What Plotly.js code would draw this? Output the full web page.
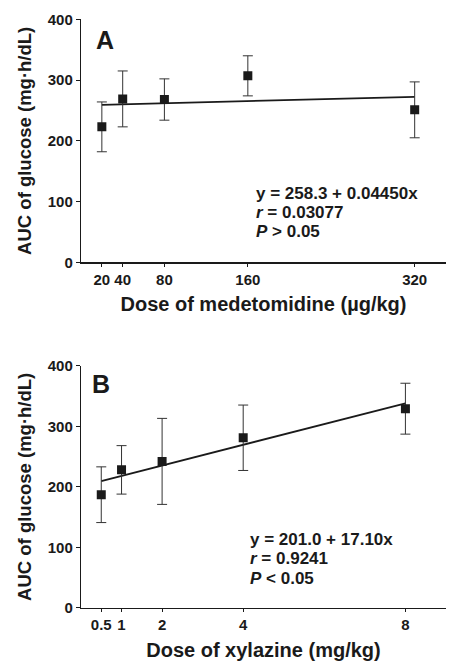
<!DOCTYPE html>
<html>
<head>
<meta charset="utf-8">
<script src="https://cdn.plot.ly/plotly-3.0.1.min.js"></script>
<style>html,body{margin:0;padding:0;background:#fff;}#chart{width:456px;height:669px;}</style>
</head>
<body>
<div id="chart"></div>
<script>
// Panel A: medetomidine
const doseA = [20, 40, 80, 160, 320];
const aucA = [223, 269, 268, 307, 251];
const errA = [41, 46, 34, 33, 46];
const fitA_x = [20, 320];
const fitA_y = [259.2, 272.5];
const tickA = [20, 40, 80, 160, 320];
const statsA = ['y = 258.3 + 0.04450x', '<i>r</i> = 0.03077', '<i>P</i> > 0.05'];

// Panel B: xylazine
const doseB = [0.5, 1, 2, 4, 8];
const aucB = [187, 228, 242, 281, 329];
const errB = [46, 40, 71, 54, 42];
const fitB_x = [0.5, 8];
const fitB_y = [209.6, 337.8];
const tickB = [0.5, 1, 2, 4, 8];
const tickBText = ['0.5', '1', '2', '4', '8'];
const statsB = ['y = 201.0 + 17.10x', '<i>r</i> = 0.9241', '<i>P</i> < 0.05'];

const yTicks = [0, 100, 200, 300, 400];

const ink = '#1a1a1a';
const fam = 'Liberation Sans, Arial, sans-serif';
const boldFont = (s) => ({family: fam, size: s, color: ink, weight: 'bold'});

function pts(x, y, e, xa, ya) {
  return {
    x: x, y: y, xaxis: xa, yaxis: ya, type: 'scatter', mode: 'markers',
    marker: {symbol: 'square', size: 9, color: ink},
    error_y: {type: 'data', array: e, visible: true, color: '#333', thickness: 1, width: 5},
    showlegend: false, hoverinfo: 'x+y'
  };
}
function fit(x, y, xa, ya) {
  return {x: x, y: y, xaxis: xa, yaxis: ya, type: 'scatter', mode: 'lines',
    line: {color: ink, width: 1.8}, showlegend: false, hoverinfo: 'skip'};
}

const data = [
  fit(fitA_x, fitA_y, 'x', 'y'),
  pts(doseA, aucA, errA, 'x', 'y'),
  fit(fitB_x, fitB_y, 'x2', 'y2'),
  pts(doseB, aucB, errB, 'x2', 'y2')
];

const xCommon = {
  showline: true, linecolor: ink, linewidth: 1.2, ticks: 'outside', ticklen: 3,
  tickcolor: ink, tickwidth: 1, showgrid: false, zeroline: false,
  tickfont: boldFont(15)
};
const yCommon = {
  range: [0, 400], tickvals: yTicks, showline: true, linecolor: ink, linewidth: 1.2,
  ticks: 'outside', ticklen: 4, tickcolor: ink, tickwidth: 1, showgrid: false,
  zeroline: false, tickfont: boldFont(15),
  title: {text: 'AUC of glucose (mg·h/dL)', font: boldFont(18.5), standoff: 11}
};

function statLines(lines, x, ys) {
  return lines.map((t, i) => ({
    text: t, xref: 'paper', yref: 'paper', x: x / 456, y: 1 - ys[i] / 669,
    xanchor: 'left', yanchor: 'middle', align: 'left', showarrow: false, font: boldFont(17)
  }));
}

const layout = {
  width: 456, height: 669,
  margin: {l: 0, r: 0, t: 0, b: 0},
  paper_bgcolor: '#fff', plot_bgcolor: '#fff',
  showlegend: false,
  xaxis: Object.assign({}, xCommon, {
    domain: [0.1776, 0.978], anchor: 'y', range: [0, 350],
    tickvals: tickA, ticktext: tickA.map(String),
    title: {text: 'Dose of medetomidine (µg/kg)', font: boldFont(20), standoff: 10}
  }),
  yaxis: Object.assign({}, yCommon, {domain: [0.6079, 0.9711], anchor: 'x'}),
  xaxis2: Object.assign({}, xCommon, {
    domain: [0.1776, 0.978], anchor: 'y2', range: [0, 9],
    tickvals: tickB, ticktext: tickBText,
    title: {text: 'Dose of xylazine (mg/kg)', font: boldFont(20), standoff: 10}
  }),
  yaxis2: Object.assign({}, yCommon, {domain: [0.0912, 0.4534], anchor: 'x2'}),
  annotations: [
    {text: 'A', xref: 'paper', yref: 'paper', x: 94 / 456, y: 1 - 40 / 669,
     xanchor: 'left', yanchor: 'middle', showarrow: false, font: boldFont(25)},
    {text: 'B', xref: 'paper', yref: 'paper', x: 90 / 456, y: 1 - 384 / 669,
     xanchor: 'left', yanchor: 'middle', showarrow: false, font: boldFont(25)}
  ].concat(statLines(statsA, 254, [193, 212.5, 231.5]))
   .concat(statLines(statsB, 248, [539, 558.5, 578]))
};

Plotly.newPlot('chart', data, layout, {displayModeBar: false, staticPlot: true});
</script>
</body>
</html>
